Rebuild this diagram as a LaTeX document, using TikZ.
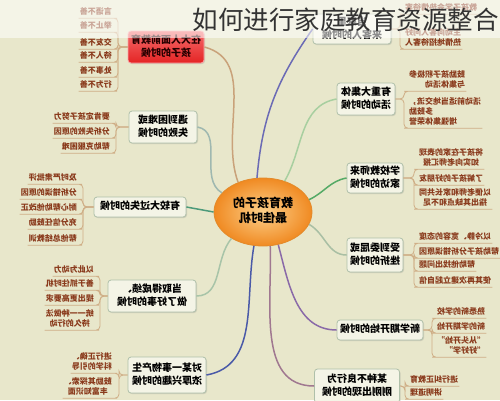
\documentclass[tikz,border=0pt]{standalone}
\usepackage{fontspec}
\setmainfont{Noto Sans CJK SC}
\usepackage{graphicx}
\usetikzlibrary{shapes.geometric,shadows,calc}
\definecolor{bg}{HTML}{E8E7CB}
\definecolor{boxfill}{HTML}{F4F4E6}
\definecolor{boxline}{HTML}{AFC0AA}
\definecolor{leaftext}{HTML}{8A3A1C}
\definecolor{leafc}{HTML}{CFAE86}
\definecolor{ctrin}{HTML}{FCD08A}
\definecolor{ctrout}{HTML}{F08A22}
\definecolor{ctrline}{HTML}{E38A2A}
\definecolor{redtop}{HTML}{F56B6B}
\definecolor{redbot}{HTML}{E42424}
\definecolor{cR}{HTML}{C9A27A}
\definecolor{cT}{HTML}{6B6BB5}
\definecolor{cG}{HTML}{A8CFA0}
\definecolor{cS}{HTML}{55AA66}
\definecolor{cW}{HTML}{A9BFA4}
\definecolor{cN}{HTML}{8A6AA8}
\definecolor{cB}{HTML}{A07890}
\definecolor{cE}{HTML}{4A5AA8}
\definecolor{cD}{HTML}{A8C4A8}
\definecolor{cF}{HTML}{4C9A7A}
\definecolor{cH}{HTML}{9FB8B0}
\newcommand\mirt[2][c]{\reflectbox{\begin{tabular}{@{}#1@{}}#2\end{tabular}}}
\tikzset{
  box/.style={draw=boxline, fill=boxfill, rounded corners=3pt, line width=0.8pt,
    inner sep=2pt, font=\fontsize{10}{13}\selectfont\bfseries, text=black,
    drop shadow={shadow xshift=1pt,shadow yshift=-1pt,opacity=0.25}},
  redbox/.style={draw=redtop!60!white, top color=redtop, bottom color=redbot, rounded corners=3pt,
    line width=0.8pt, inner sep=2pt, font=\fontsize{10}{13}\selectfont\bfseries, text=black!85!red,
    drop shadow={shadow xshift=1pt,shadow yshift=-1pt,opacity=0.25}},
  leaf/.style={inner sep=1pt, font=\fontsize{8}{10}\selectfont\bfseries, text=leaftext},
  leafline/.style={draw=leafc, line width=0.8pt, rounded corners=4pt},
  conn/.style={line width=1.5pt},
}
\begin{document}
\begin{tikzpicture}[x=1pt,y=-1pt]
\useasboundingbox (0,0) rectangle (500,400);
\fill[bg] (0,0) rectangle (500,400);

% centre
\node[ellipse, minimum width=98, minimum height=68, draw=ctrline, line width=0.8pt,
  inner color=ctrin, outer color=ctrout, font=\fontsize{12}{15}\selectfont\bfseries]
  (C) at (263,212) {\mirt{教育孩子的\\最佳时机}};

% main boxes
\node[redbox, minimum width=76, minimum height=32] (R) at (166,47) {\mirt{在大人面前教育\\孩子的时候}};
\node[box, minimum width=68, minimum height=32] (H) at (163,127) {\mirt{遇到困难或\\失败的时候}};
\node[box, minimum width=92, minimum height=20] (F) at (140,207) {\mirt{有较大过失的时候}};
\node[box, minimum width=88, minimum height=32] (D) at (152,296) {\mirt{当取得成绩、\\做了好事的时候}};
\node[box, minimum width=78, minimum height=36] (E) at (167,375) {\mirt{对某一事物产生\\浓厚兴趣的时候}};
\node[box, minimum width=78, minimum height=28] (T) at (352,29) {\mirt{当家里\\来客人的时候}};
\node[box, minimum width=58, minimum height=32] (G) at (366,99) {\mirt{有重大集体\\活动的时候}};
\node[box, minimum width=56, minimum height=30] (S) at (375,178) {\mirt{学校教师来\\家访的时候}};
\node[box, minimum width=56, minimum height=34] (W) at (375,255) {\mirt{受到委屈或\\挫折的时候}};
\node[box, minimum width=86, minimum height=20] (N) at (380,330) {\mirt{新学期开始的时候}};
\node[box, minimum width=85, minimum height=34] (B) at (357,386) {\mirt{某种不良行为\\刚刚出现的时候}};

% connectors from centre
\draw[conn, cR] (C.130) to[out=110,in=-15] (R.east);
\draw[conn, cT] (C.100) to[out=85,in=235] (T.west);
\draw[conn, cG] (C.55) to[out=60,in=190] (G.west);
\draw[conn, cS] (C.15) to[out=25,in=190] (S.west);
\draw[conn, cW] (C.-15) to[out=-30,in=180] (W.west);
\draw[conn, cN] (C.-65) to[out=-75,in=180] (N.west);
\draw[conn, cB] (C.-78) to[out=-88,in=180] (B.west);
\draw[conn, cE] (C.-105) to[out=-100,in=10] (E.east);
\draw[conn, cD] (C.-140) to[out=-130,in=0] (D.east);
\draw[conn, cF] (C.west) -- (F.east);
\draw[conn, cH] (C.155) to[out=150,in=-10] (H.east);

% spine points
\coordinate (sR) at (118,47);
\coordinate (sH) at (116,127);
\coordinate (sF) at (83,207);
\coordinate (sD) at (100,296);
\coordinate (sE) at (119,375);
\coordinate (sT) at (400,29);
\coordinate (sG) at (404,99);
\coordinate (sS) at (414,178);
\coordinate (sW) at (414,255);
\coordinate (sN) at (432,330);
\coordinate (sB) at (405,386);

% leaves: red node
\node[leaf, anchor=east] (r1) at (113,12) {\mirt{言语不善}};
\node[leaf, anchor=east] (r2) at (113,26) {\mirt{举止不善}};
\node[leaf, anchor=east] (r3) at (113,43) {\mirt{交友不善}};
\node[leaf, anchor=east] (r4) at (113,56) {\mirt{待人不善}};
\node[leaf, anchor=east] (r5) at (113,71) {\mirt{处事不善}};
\node[leaf, anchor=east] (r6) at (113,85) {\mirt{行为不善}};
\foreach \l in {r1,r2,r3,r4,r5,r6}
  \draw[leafline] (R.west) -- (sR) |- (\l.south east) -- (\l.south west);

% leaves: H
\node[leaf, anchor=east] (h1) at (111,117) {\mirt{要肯定孩子努力}};
\node[leaf, anchor=east] (h2) at (111,132) {\mirt{分析失败的原因}};
\node[leaf, anchor=east] (h3) at (111,147) {\mirt{帮助克服困难}};
\foreach \l in {h1,h2,h3}
  \draw[leafline] (H.west) -- (sH) |- (\l.south east) -- (\l.south west);

% leaves: F
\node[leaf, anchor=east] (f1) at (78,178) {\mirt{及时严肃批评}};
\node[leaf, anchor=east] (f2) at (78,193) {\mirt{分析错误的原因}};
\node[leaf, anchor=east] (f3) at (78,208) {\mirt{耐心帮助他改正}};
\node[leaf, anchor=east] (f4) at (78,223) {\mirt{充分信任鼓励}};
\node[leaf, anchor=east] (f5) at (78,239) {\mirt{帮他总结教训}};
\foreach \l in {f1,f2,f3,f4,f5}
  \draw[leafline] (F.west) -- (sF) |- (\l.south east) -- (\l.south west);

% leaves: D
\node[leaf, anchor=east] (d1) at (95,270) {\mirt{以此为动力}};
\node[leaf, anchor=east] (d2) at (95,284) {\mirt{善于抓住时机}};
\node[leaf, anchor=east] (d3) at (95,299) {\mirt{提出更高要求}};
\node[leaf, anchor=east] (d4) at (95,319) {\mirt{统一一种做法\\持久的行动}};
\foreach \l in {d1,d2,d3,d4}
  \draw[leafline] (D.west) -- (sD) |- (\l.south east) -- (\l.south west);

% leaves: E
\node[leaf, anchor=east] (e1) at (113,362) {\mirt{进行正确、\\科学的引导}};
\node[leaf, anchor=east] (e2) at (113,387) {\mirt{鼓励其探索、\\丰富知识面}};
\foreach \l in {e1,e2}
  \draw[leafline] (E.west) -- (sE) |- (\l.south east) -- (\l.south west);

% leaves: T
\node[leaf, anchor=west] (t1) at (404,8) {\mirt{教孩子学会热情待客}};
\node[leaf, anchor=west] (t2) at (404,38) {\mirt[l]{主动向客人问好\\热情地招待客人}};
\foreach \l in {t1,t2}
  \draw[leafline] (T.east) -- (sT) |- (\l.south west) -- (\l.south east);

% leaves: G
\node[leaf, anchor=west] (g1) at (408,80) {\mirt[l]{鼓励孩子积极参\\与集体活动}};
\node[leaf, anchor=west] (g2) at (408,112) {\mirt[r]{活动前适当地交流，\\多鼓励\\增强集体荣誉}};
\foreach \l in {g1,g2}
  \draw[leafline] (G.east) -- (sG) |- (\l.south west) -- (\l.south east);

% leaves: S
\node[leaf, anchor=west] (s1) at (418,158) {\mirt{将孩子在家的表现\\如实向老师汇报}};
\node[leaf, anchor=west] (s2) at (418,179) {\mirt{了解孩子的好朋友}};
\node[leaf, anchor=west] (s3) at (418,198) {\mirt{以便老师和家长共同\\指出其缺点和不足}};
\foreach \l in {s1,s2,s3}
  \draw[leafline] (S.east) -- (sS) |- (\l.south west) -- (\l.south east);

% leaves: W
\node[leaf, anchor=west] (w1) at (418,237) {\mirt{以冷静、宽容的态度}};
\node[leaf, anchor=west] (w2) at (418,252) {\mirt{帮助孩子分析错误原因}};
\node[leaf, anchor=west] (w3) at (418,265) {\mirt{帮助他找出问题}};
\node[leaf, anchor=west] (w4) at (418,281) {\mirt{使其再次建立起自信}};
\foreach \l in {w1,w2,w3,w4}
  \draw[leafline] (W.east) -- (sW) |- (\l.south west) -- (\l.south east);

% leaves: N
\node[leaf, anchor=west] (n1) at (436,312) {\mirt{熟悉新的学校}};
\node[leaf, anchor=west] (n2) at (436,327) {\mirt{新的学期开始}};
\node[leaf, anchor=west] (n3) at (436,346) {\mirt[l]{“从头开始”\\“好好学”}};
\foreach \l in {n1,n2,n3}
  \draw[leafline] (N.east) -- (sN) |- (\l.south west) -- (\l.south east);

% leaves: B
\node[leaf, anchor=west] (b1) at (409,380) {\mirt{进行纠正教育}};
\node[leaf, anchor=west] (b2) at (409,393) {\mirt{讲明道理}};
\foreach \l in {b1,b2}
  \draw[leafline] (B.east) -- (sB) |- (\l.south west) -- (\l.south east);

% title overlay
\fill[white, opacity=0.55] (0,0) rectangle (500,38);
\node[anchor=east, inner sep=0pt, font=\fontsize{25.5}{27}\selectfont, text=black!80] (title) at (499,20) {如何进行家庭教育资源整合};
\end{tikzpicture}
\end{document}
